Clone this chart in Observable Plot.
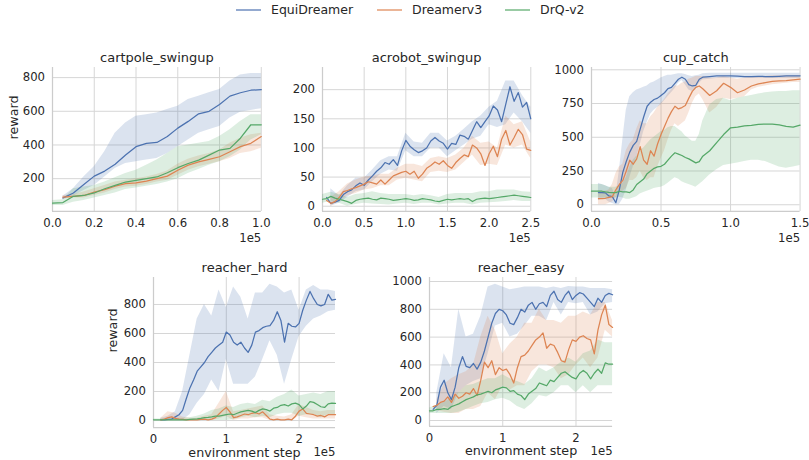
<!DOCTYPE html>
<html><head><meta charset="utf-8">
<script src="https://cdn.jsdelivr.net/npm/d3@7"></script>
<script src="https://cdn.jsdelivr.net/npm/@observablehq/plot@0.6"></script>
<style>
body{margin:0;background:#fff;font-family:"DejaVu Sans",sans-serif;}
#root{position:relative;width:809px;height:460px;overflow:hidden;background:#fff;}
#root > svg{position:absolute;font-family:"DejaVu Sans",sans-serif;}
#root svg [aria-label^="x-axis"] text, #root svg [aria-label^="y-axis"] text{font-size:11.7px;fill:#262626;}
.leg{position:absolute;top:2px;height:16px;line-height:16px;font-size:12.5px;color:#262626;white-space:nowrap;}
.sw{position:absolute;top:9px;width:25px;height:2px;opacity:0.6;}
</style></head>
<body><div id="root"></div>
<script>
// ---------- series / categories ----------
const SERIES = ["EquiDreamer", "Dreamerv3", "DrQ-v2"];
const COLORS = ["#4c72b0", "#dd8452", "#55a868"];

// ---------- cartpole_swingup (x in units of 1e5 steps) ----------
const cartSteps = [0,0.05,0.1,0.15,0.2,0.25,0.3,0.35,0.4,0.45,0.5,0.55,0.6,0.65,0.7,0.75,0.8,0.85,0.9,0.95,1];
const cartEqui     = [null,85,115,165,215,245,285,340,390,410,415,450,500,540,585,600,640,690,710,725,728];
const cartEquiLo   = [null,75,95,130,160,210,260,290,300,310,320,350,390,430,470,490,510,560,595,605,615];
const cartEquiHi   = [null,95,140,210,270,360,470,530,570,580,590,610,630,670,690,710,730,780,815,825,825];
const cartDreamer  = [null,90,95,100,120,135,155,170,175,185,200,215,250,280,300,315,330,360,390,410,450];
const cartDreamerLo= [null,80,85,85,100,115,135,150,155,165,180,190,220,250,270,285,300,320,350,360,380];
const cartDreamerHi= [null,100,105,120,140,160,180,190,200,210,225,245,285,315,335,350,370,410,440,460,470];
const cartDrq      = [55,58,95,100,115,140,160,180,190,200,210,235,265,290,310,340,370,380,440,520,520];
const cartDrqLo    = [40,40,60,70,85,100,115,135,145,155,165,180,200,230,255,280,300,330,370,430,460];
const cartDrqHi    = [70,75,140,150,160,180,205,230,250,280,310,350,390,400,410,420,450,490,540,580,580];

// ---------- shared 2.5e5 grids ----------
const longSteps = [0,0.05,0.1,0.15,0.2,0.25,0.3,0.35,0.4,0.45,0.5,0.55,0.6,0.65,0.7,0.75,0.8,0.85,0.9,0.95,1,1.05,1.1,1.15,1.2,1.25,1.3,1.35,1.4,1.45,1.5,1.55,1.6,1.65,1.7,1.75,1.8,1.85,1.9,1.95,2,2.05,2.1,2.15,2.2,2.25,2.3,2.35,2.4,2.45,2.5];
const longBandSteps = [0,0.1,0.2,0.3,0.4,0.5,0.6,0.7,0.8,0.9,1,1.1,1.2,1.3,1.4,1.5,1.6,1.7,1.8,1.9,2,2.1,2.2,2.3,2.4,2.5];

// ---------- acrobot_swingup ----------
const acroEqui    = [null,15,5,7,10,20,25,28,35,40,36,45,52,60,66,75,72,80,70,95,113,103,97,92,95,100,112,118,112,108,98,108,106,122,120,115,130,145,135,145,155,172,165,145,175,205,180,195,170,178,150];
const acroDreamer = [null,10,5,8,15,25,27,30,32,35,38,42,40,38,45,38,45,52,55,58,60,55,60,48,55,65,70,76,72,78,70,65,75,82,88,85,105,100,90,70,90,103,85,115,130,105,118,132,123,98,96];
const acroDrq     = [12,13,17,14,12,10,8,5,10,12,13,14,12,11,14,13,12,10,11,12,13,12,10,11,13,12,11,9,8,10,12,11,12,13,12,13,8,12,13,14,13,14,15,16,17,18,19,18,17,16,15];
const acroEquiLo    = [null,0,5,15,25,28,42,55,62,60,95,85,85,100,100,85,95,105,115,120,140,135,140,160,145,125];
const acroEquiHi    = [null,30,18,35,48,48,62,78,85,85,125,110,108,125,125,112,120,132,145,155,170,180,215,215,190,170];
const acroDreamerLo = [null,0,8,18,22,28,30,35,35,45,48,45,42,58,60,58,62,75,88,70,72,70,105,100,105,82];
const acroDreamerHi = [null,15,25,38,45,50,52,55,55,65,72,72,68,82,85,82,88,100,120,108,110,100,155,140,145,110];
const acroDrqLo     = [5,8,5,0,3,5,4,3,2,4,5,3,5,5,2,4,5,5,2,5,6,7,8,10,8,8];
const acroDrqHi     = [20,24,20,15,20,22,25,22,20,20,20,18,20,18,15,20,22,22,22,25,25,28,28,28,25,24];

// ---------- cup_catch ----------
const cupSteps = [0,0.025,0.05,0.075,0.1,0.125,0.15,0.175,0.2,0.225,0.25,0.275,0.3,0.325,0.35,0.375,0.4,0.425,0.45,0.475,0.5,0.525,0.55,0.575,0.6,0.625,0.65,0.675,0.7,0.725,0.75,0.775,0.8,0.85,0.9,0.95,1,1.05,1.1,1.15,1.2,1.25,1.3,1.35,1.4,1.45,1.5];
const cupEqui      = [null,null,90,90,88,65,60,15,110,240,320,390,440,470,560,650,730,760,780,790,810,830,860,870,900,930,945,930,890,880,885,930,945,950,955,955,955,953,950,950,952,950,950,952,955,955,955];
const cupEquiLo    = [null,null,30,40,40,20,10,0,0,40,110,200,280,350,440,540,610,670,700,720,740,770,800,830,860,900,920,890,850,840,850,900,925,930,935,935,935,935,935,935,935,935,935,935,935,935,935];
const cupEquiHi    = [null,null,160,150,140,130,120,60,250,480,700,800,830,850,860,870,880,900,910,925,940,950,960,960,965,970,970,965,955,950,955,960,970,975,975,975,975,975,975,975,975,975,975,975,975,975,975];
const cupDreamer   = [null,null,45,45,48,55,60,110,150,180,250,330,300,340,430,330,300,400,360,450,520,580,640,690,730,710,720,735,790,840,870,880,860,810,845,900,870,830,850,880,895,905,915,918,920,925,930];
const cupDreamerLo = [null,null,0,0,0,10,20,50,80,100,120,180,180,200,250,200,180,200,200,280,340,400,480,550,600,580,600,620,680,750,800,820,780,680,720,790,780,790,800,850,870,880,890,895,900,905,905];
const cupDreamerHi = [null,null,100,100,100,110,150,230,280,300,400,450,480,560,620,600,600,650,680,720,750,780,820,850,880,880,900,910,930,940,950,950,950,940,940,950,940,930,940,945,950,950,955,955,955,955,955];
const cupDrq       = [100,100,100,100,95,92,90,90,100,95,95,90,110,150,170,190,230,250,270,280,285,300,330,360,385,375,365,350,340,325,310,320,360,400,460,520,570,575,585,588,595,598,598,592,580,575,590];
const cupDrqLo     = [50,50,50,50,50,45,50,50,55,50,40,40,50,60,80,90,100,110,120,125,130,140,160,180,200,190,170,160,150,140,130,150,170,220,260,290,300,310,320,330,330,320,300,280,270,280,290];
const cupDrqHi     = [150,150,150,150,140,130,130,130,140,160,200,280,330,360,400,420,450,480,500,520,540,550,570,580,580,560,540,510,490,470,470,520,620,740,780,790,770,790,800,810,820,830,835,840,840,845,845];

// ---------- reacher_hard ----------
const rhEqui    = [null,null,5,5,8,10,25,40,70,150,225,280,340,370,400,440,470,500,520,540,610,590,540,520,540,500,470,520,610,620,640,650,655,690,750,690,540,670,650,645,670,760,830,890,840,800,790,800,870,830,835];
const rhDreamer = [null,null,5,10,20,25,15,10,8,5,5,5,5,8,10,5,10,20,45,70,90,60,20,25,35,45,40,50,55,45,60,35,10,5,10,5,5,10,5,30,65,80,50,45,40,30,35,25,40,40,40];
const rhDrq     = [5,5,5,5,5,5,5,5,5,5,8,10,12,15,20,22,25,30,30,35,40,45,40,50,60,65,70,65,55,70,80,75,65,85,90,105,110,100,115,120,110,80,100,130,125,110,95,90,115,120,118];
const rhEquiLo    = [null,0,0,0,0,40,120,180,280,200,420,250,250,250,300,420,550,450,250,420,580,650,700,720,750,760];
const rhEquiHi    = [null,15,30,60,200,450,700,800,720,900,780,920,850,700,880,880,940,920,880,900,760,900,930,900,900,890];
const rhDreamerLo = [null,0,0,0,0,0,0,0,0,10,30,0,10,10,20,20,0,0,0,0,30,20,10,10,10,10];
const rhDreamerHi = [null,15,60,50,25,15,15,30,40,120,200,60,70,80,90,100,40,30,25,40,110,90,70,60,70,70];
const rhDrqLo     = [0,0,0,0,0,0,0,0,0,0,0,5,20,30,20,30,20,40,50,50,30,40,40,20,40,40];
const rhDrqHi     = [10,10,12,15,15,20,30,45,70,80,100,90,110,120,110,140,130,160,180,210,170,180,190,180,200,200];

// ---------- reacher_easy ----------
const reEqui    = [null,80,110,240,290,200,150,240,380,460,390,380,410,370,420,500,600,700,770,800,790,760,700,690,740,800,780,830,850,800,840,850,820,900,930,870,850,900,930,870,900,920,910,880,850,820,880,850,900,915,905];
const reDreamer = [null,100,110,130,140,170,130,190,160,175,200,190,230,180,290,420,380,430,330,380,360,370,330,270,380,460,470,500,540,580,600,630,520,550,540,490,430,420,510,580,570,600,610,590,580,480,650,760,830,690,670];
const reDrq     = [70,70,80,80,85,80,100,110,120,135,150,160,170,185,190,200,210,200,220,230,240,235,210,215,190,180,150,190,210,230,270,260,250,290,280,310,340,350,330,310,300,340,360,340,300,340,370,340,415,405,405];
const reEquiLo    = [null,50,100,80,200,250,280,300,480,680,700,600,620,680,750,750,720,850,760,850,840,850,760,780,840,850];
const reEquiHi    = [null,200,480,380,800,600,620,750,960,980,960,940,950,960,960,960,950,960,950,965,960,960,950,950,950,940];
const reDreamerLo = [null,70,60,50,50,80,80,100,200,150,250,220,250,250,350,400,400,380,300,330,400,450,380,450,650,600];
const reDreamerHi = [null,150,260,300,330,350,400,600,750,650,480,550,600,700,700,800,720,720,700,750,750,780,760,850,850,720];
const reDrqLo     = [50,50,50,50,60,80,100,120,130,150,160,140,100,80,120,180,170,200,250,250,200,250,200,250,250,250];
const reDrqHi     = [90,110,130,160,200,250,260,280,300,300,330,300,280,260,300,380,350,380,420,450,420,480,500,580,560,560];

// ---------- tick labels ----------
const cartXTicks = [0,0.2,0.4,0.6,0.8,1.0];
const acroXTicks = [0,0.5,1.0,1.5,2.0,2.5];
const cupXTicks  = [0,0.5,1.0,1.5];
const reachXTicks = [0,1,2];
const cartYTicks = [200,400,600,800];
const acroYTicks = [0,50,100,150,200];
const cupYTicks  = [0,250,500,750,1000];
const rhYTicks   = [0,200,400,600,800];
const reYTicks   = [0,200,400,600,800,1000];

// ---------- helpers ----------
const rows = (steps, arr) => steps.map((x, i) => ({x, y: arr[i]})).filter(d => d.y != null);
const bandRows = (steps, lo, hi) => steps.map((x, i) => ({x, lo: lo[i], hi: hi[i]})).filter(d => d.lo != null && d.hi != null);

const panels = [
  {title: "cartpole_swingup", box: [51.7, 67, 260.5, 211], yDomain: [5, 860], yTicks: cartYTicks,
   xMax: 1, xTicks: cartXTicks, xFmt: d3.format(".1f"), reward: true, xlabel: false, offDy: 30.7,
   steps: cartSteps, bandSteps: cartSteps,
   lines: [cartEqui, cartDreamer, cartDrq], lo: [cartEquiLo, cartDreamerLo, cartDrqLo], hi: [cartEquiHi, cartDreamerHi, cartDrqHi]},
  {title: "acrobot_swingup", box: [321.7, 67, 530, 211], yDomain: [-9, 238], yTicks: acroYTicks,
   xMax: 2.5, xTicks: acroXTicks, xFmt: d3.format(".1f"), reward: false, xlabel: false, offDy: 30.7,
   steps: longSteps, bandSteps: longBandSteps,
   lines: [acroEqui, acroDreamer, acroDrq], lo: [acroEquiLo, acroDreamerLo, acroDrqLo], hi: [acroEquiHi, acroDreamerHi, acroDrqHi]},
  {title: "cup_catch", box: [590.7, 67, 799.3, 211], yDomain: [-50, 1017], yTicks: cupYTicks,
   xMax: 1.5, xTicks: cupXTicks, xFmt: d3.format(".1f"), reward: false, xlabel: false, offDy: 30.7,
   steps: cupSteps, bandSteps: cupSteps,
   lines: [cupEqui, cupDreamer, cupDrq], lo: [cupEquiLo, cupDreamerLo, cupDrqLo], hi: [cupEquiHi, cupDreamerHi, cupDrqHi]},
  {title: "reacher_hard", box: [153, 277, 335, 427], yDomain: [-48, 986], yTicks: rhYTicks,
   xMax: 2.5, xTicks: reachXTicks, xFmt: d3.format("d"), reward: true, xlabel: true, offDy: 28,
   steps: longSteps, bandSteps: longBandSteps,
   lines: [rhEqui, rhDreamer, rhDrq], lo: [rhEquiLo, rhDreamerLo, rhDrqLo], hi: [rhEquiHi, rhDreamerHi, rhDrqHi]},
  {title: "reacher_easy", box: [429.4, 277, 612.5, 426], yDomain: [-43, 1029], yTicks: reYTicks,
   xMax: 2.5, xTicks: reachXTicks, xFmt: d3.format("d"), reward: false, xlabel: true, offDy: 28.5,
   steps: longSteps, bandSteps: longBandSteps,
   lines: [reEqui, reDreamer, reDrq], lo: [reEquiLo, reDreamerLo, reDrqLo], hi: [reEquiHi, reDreamerHi, reDrqHi]}
];

const root = document.getElementById("root");
const TXT = "#262626";
const FONT = "DejaVu Sans";

for (const p of panels) {
  const [L, T, R, B] = p.box;
  const mL = 60, mT = 30, mB = 50, mR = 14;
  const W = (R - L) + mL + mR, H = (B - T) + mT + mB;
  const marks = [
    Plot.ruleY(p.yTicks, {stroke: "#d6d6d6", strokeWidth: 1}),
    Plot.ruleX(p.xTicks, {stroke: "#d6d6d6", strokeWidth: 1}),
    Plot.ruleX([0], {stroke: "#cccccc", strokeWidth: 1.25}),
    Plot.ruleY([p.yDomain[0]], {stroke: "#cccccc", strokeWidth: 1.25})
  ];
  SERIES.forEach((s, k) => {
    marks.push(Plot.areaY(bandRows(p.bandSteps, p.lo[k], p.hi[k]),
      {x: "x", y1: "lo", y2: "hi", fill: COLORS[k], fillOpacity: 0.2}));
  });
  SERIES.forEach((s, k) => {
    marks.push(Plot.lineY(rows(p.steps, p.lines[k]),
      {x: "x", y: "y", stroke: COLORS[k], strokeWidth: 1.25}));
  });
  marks.push(Plot.text([p.title], {text: d => d, frameAnchor: "top", lineAnchor: "bottom", dy: -5.5, fontSize: 13, fontFamily: FONT, fill: TXT}));
  marks.push(Plot.text(["1e5"], {text: d => d, frameAnchor: "bottom-right", textAnchor: "end", lineAnchor: "bottom", dy: p.offDy, fontSize: 11.7, fontFamily: FONT, fill: TXT}));
  if (p.xlabel) {
    marks.push(Plot.text(["environment step"], {text: d => d, frameAnchor: "bottom", lineAnchor: "bottom", dy: 29, fontSize: 12.7, fontFamily: FONT, fill: TXT}));
  }
  if (p.reward) {
    const anchorX = (L < 100 ? 12.7 : 112.7);
    marks.push(Plot.text(["reward"], {text: d => d, frameAnchor: "left", rotate: -90, lineAnchor: "middle", dx: anchorX - L, fontSize: 12.7, fontFamily: FONT, fill: TXT}));
  }
  const svg = Plot.plot({
    width: W, height: H,
    marginLeft: mL, marginRight: mR, marginTop: mT, marginBottom: mB,
    style: {background: "transparent", overflow: "visible", color: TXT},
    x: {domain: [0, p.xMax], ticks: p.xTicks, tickFormat: p.xFmt, tickSize: 0, tickPadding: 7, label: null},
    y: {domain: p.yDomain, ticks: p.yTicks, tickFormat: d3.format("d"), tickSize: 0, tickPadding: 7.5, label: null},
    marks
  });
  svg.style.left = (L - mL) + "px";
  svg.style.top = (T - mT) + "px";
  root.appendChild(svg);
}

// ---------- legend ----------
const legendX = [236, 377, 505];
SERIES.forEach((s, k) => {
  const sw = document.createElement("div");
  sw.className = "sw";
  sw.style.left = legendX[k] + "px";
  sw.style.background = COLORS[k];
  root.appendChild(sw);
  const lab = document.createElement("div");
  lab.className = "leg";
  lab.style.left = (legendX[k] + 35) + "px";
  lab.textContent = s;
  root.appendChild(lab);
});
</script>
</body></html>
